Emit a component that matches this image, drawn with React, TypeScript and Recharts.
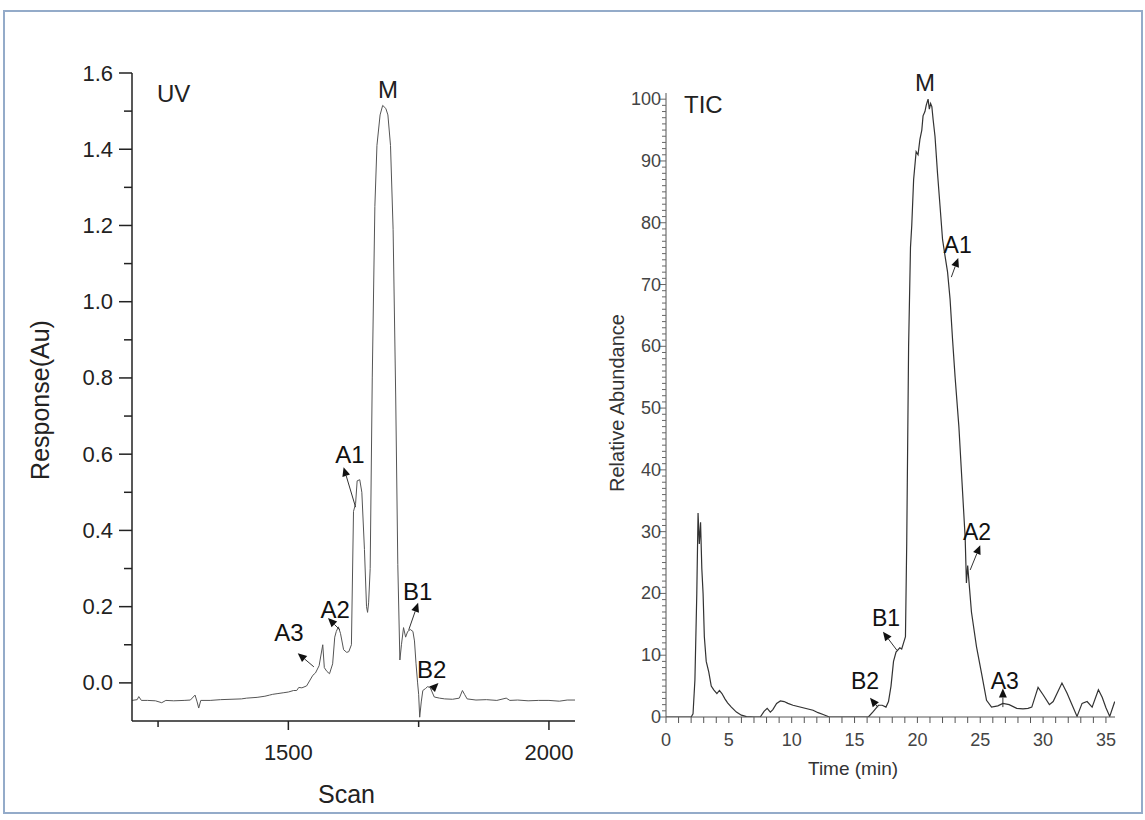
import React from "react";
import {
  LineChart,
  Line,
  XAxis,
  YAxis,
  ReferenceLine,
  ReferenceDot,
} from "recharts";

// UV trace (scan number vs response, Au)
const uvScan = [
  1200, 1210, 1213, 1218, 1230, 1245, 1257, 1265, 1280, 1300, 1312, 1321, 1325,
  1328, 1332, 1350, 1370, 1390, 1410, 1420, 1440, 1455, 1464, 1470, 1480, 1490,
  1500, 1510, 1516, 1520, 1526, 1535, 1547, 1552, 1559, 1566, 1569, 1574, 1579,
  1585, 1589, 1592, 1596, 1600, 1606, 1612, 1616, 1621, 1625, 1629, 1632, 1637,
  1641, 1646, 1650, 1652, 1654, 1657, 1661, 1666, 1670, 1676, 1681, 1687, 1691,
  1696, 1701, 1706, 1710, 1714, 1717, 1721, 1725, 1729, 1734, 1739, 1742, 1745,
  1748, 1750, 1752, 1755, 1758, 1763, 1767, 1772, 1780, 1790, 1800, 1815, 1828,
  1834, 1838, 1843, 1860, 1880, 1900, 1918, 1925, 1940, 1960, 1980, 2000, 2020,
  2035, 2050,
];
const uvResp = [
  -0.046, -0.044, -0.036, -0.046, -0.046, -0.047, -0.052, -0.046, -0.047,
  -0.046, -0.045, -0.032, -0.05, -0.066, -0.046, -0.046, -0.044, -0.043, -0.042,
  -0.04, -0.038, -0.035, -0.032, -0.03, -0.028, -0.026, -0.024, -0.02, -0.02,
  -0.012, -0.013, -0.008, 0.02, 0.026, 0.045, 0.1, 0.04, 0.03, 0.024, 0.05, 0.12,
  0.135, 0.147, 0.13, 0.087, 0.08, 0.082, 0.1, 0.45, 0.47, 0.53, 0.533, 0.5,
  0.35, 0.2, 0.185, 0.21, 0.3, 0.8, 1.25, 1.41, 1.49, 1.515, 1.507, 1.49, 1.41,
  1.19, 0.75, 0.31, 0.06, 0.1, 0.145, 0.12, 0.135, 0.14, 0.135, 0.11, 0.05, 0.0,
  -0.03, -0.09, -0.05, -0.02, -0.015, -0.01, -0.012, -0.037, -0.04, -0.042,
  -0.043, -0.04, -0.02, -0.03, -0.042, -0.045, -0.044, -0.046, -0.04, -0.046,
  -0.045, -0.047, -0.046, -0.046, -0.048, -0.045, -0.045,
];

// TIC trace (time, min vs relative abundance)
const ticTime = [
  0, 2.0, 2.15, 2.3, 2.45, 2.55, 2.65, 2.75, 2.85, 2.95, 3.05, 3.2, 3.4, 3.6,
  3.8, 4.05, 4.25, 4.45, 4.7, 4.9, 5.2, 5.6, 6.0, 6.4, 7.0, 7.5, 7.8, 8.05, 8.3,
  8.5, 8.8, 9.1, 9.4, 9.7, 10.1, 10.5, 10.9, 11.3, 11.7, 12.1, 12.5, 13.0, 16.1,
  16.5, 16.9, 17.2, 17.5, 17.7, 17.9, 18.1, 18.3, 18.6, 18.75, 18.9, 19.05,
  19.15, 19.3, 19.45, 19.55, 19.7, 19.9, 20.05, 20.2, 20.35, 20.45, 20.6, 20.7,
  20.85, 20.95, 21.05, 21.15, 21.25, 21.4, 21.6, 21.8, 22.0, 22.2, 22.4, 22.6,
  22.8, 23.0, 23.3, 23.55, 23.8, 23.9, 24.0, 24.1, 24.3, 24.7, 25.1, 25.5, 25.9,
  26.4, 26.8, 27.3, 27.9, 28.4, 28.8, 29.1, 29.6, 30.0, 30.5, 30.8, 31.5, 31.9,
  32.3, 32.7, 33.1, 33.5, 33.9, 34.4, 34.7, 35.0, 35.3, 35.7,
];
const ticAbund = [
  0, 0, 0.5, 6, 20, 33, 28, 31.5, 24, 20, 13, 9, 7.3, 5, 4.4, 3.8, 4.3, 3.8, 2.9,
  2.3, 1.6, 0.8, 0.3, 0.05, 0, 0, 0.9, 1.4, 0.8, 1.2, 2.2, 2.6, 2.5, 2.2, 1.9,
  1.7, 1.5, 1.3, 1.1, 0.7, 0.4, 0, 0, 0.9, 1.9, 1.9, 1.6, 2.5, 5, 9, 10.5, 11.2,
  11, 12, 13, 28, 60, 76, 79.5, 87, 91.5, 91, 93.5, 95, 97.3, 98, 99, 100, 98.4,
  99.3, 98.8, 96.7, 94, 88, 82.7, 77.3, 74.6, 72, 67.6, 61, 55, 47, 38, 29, 21.7,
  24.5, 22, 17, 11.4, 7.1, 2.7, 1.6, 1.8, 2.2, 2, 1.4, 1.3, 1.4, 1.6, 4.8, 3.6,
  2.0, 2.5, 5.5, 3.9, 2, 0.1, 2.2, 2.5, 1.6, 4.4, 3.2, 1.5, 0.1, 2.5,
];

const uvXTicks = [1250, 1500, 1750, 2000];
const uvYTicks = [
  0, 0.1, 0.2, 0.3, 0.4, 0.5, 0.6, 0.7, 0.8, 0.9, 1.0, 1.1, 1.2, 1.3, 1.4, 1.5,
  1.6,
];
const ticXLabels = [0, 5, 10, 15, 20, 25, 30, 35];
const ticYLabels = [0, 10, 20, 30, 40, 50, 60, 70, 80, 90, 100];
const ticXTicks = Array.from({ length: 36 }, (_, i) => i);
const ticYTicks = Array.from({ length: 101 }, (_, i) => i);

// peak annotations: label, text anchor, arrow tail (on trace), arrow head
const uvNotes = [
  { name: "A3", tx: 1501, ty: 0.131, x1: 1549, y1: 0.042, x2: 1518, y2: 0.078 },
  { name: "A2", tx: 1590, ty: 0.193, x1: 1599, y1: 0.139, x2: 1576, y2: 0.17 },
  { name: "A1", tx: 1618, ty: 0.598, x1: 1629, y1: 0.461, x2: 1606, y2: 0.566 },
  { name: "B1", tx: 1748, ty: 0.24, x1: 1731, y1: 0.139, x2: 1749, y2: 0.21 },
  { name: "B2", tx: 1775, ty: 0.034, x1: 1775, y1: -0.018, x2: 1788, y2: 0.0 },
];
const ticNotes = [
  { name: "A1", tx: 23.2, ty: 76.4, x1: 22.7, y1: 71.2, x2: 23.25, y2: 74.3 },
  { name: "A2", tx: 24.75, ty: 30.0, x1: 24.2, y1: 23.8, x2: 25.0, y2: 27.8 },
  { name: "B1", tx: 17.5, ty: 16.1, x1: 18.37, y1: 10.8, x2: 17.26, y2: 13.8 },
  { name: "B2", tx: 15.83, ty: 5.9, x1: 16.85, y1: 1.6, x2: 16.23, y2: 3.1 },
  { name: "A3", tx: 26.95, ty: 5.9, x1: 26.8, y1: 1.6, x2: 26.8, y2: 4.6 },
];

const uvData = uvScan.map((s, i) => ({ scan: s, resp: uvResp[i] }));
const ticData = ticTime.map((t, i) => ({ time: t, abund: ticAbund[i] }));

const FONT = "'Liberation Sans', Arial, sans-serif";

const arrowShape = (p: any) => {
  const { x1, y1, x2, y2 } = p;
  const dx = x2 - x1;
  const dy = y2 - y1;
  const len = Math.hypot(dx, dy) || 1;
  const ux = dx / len;
  const uy = dy / len;
  const hl = 9;
  const hw = 4;
  const bx = x2 - ux * hl;
  const by = y2 - uy * hl;
  return (
    <g>
      <line x1={x1} y1={y1} x2={bx} y2={by} stroke="#333" strokeWidth={1} />
      <polygon
        points={`${x2},${y2} ${bx - uy * hw},${by + ux * hw} ${bx + uy * hw},${by - ux * hw}`}
        fill="#111"
      />
    </g>
  );
};

function notes(list: any[], size: number, prefix: string) {
  const out: any[] = [];
  list.forEach((n) => {
    out.push(
      <ReferenceLine
        key={prefix + n.name + "l"}
        segment={[
          { x: n.x1, y: n.y1 },
          { x: n.x2, y: n.y2 },
        ]}
        shape={arrowShape}
        ifOverflow="visible"
      />
    );
    out.push(
      <ReferenceDot
        key={prefix + n.name + "t"}
        x={n.tx}
        y={n.ty}
        r={1}
        ifOverflow="visible"
        shape={(p: any) => (
          <text
            x={p.cx}
            y={p.cy}
            textAnchor="middle"
            dominantBaseline="central"
            fontSize={size}
            fontFamily={FONT}
            fill="#111"
          >
            {n.name}
          </text>
        )}
      />
    );
  });
  return out;
}

const UvXTick = (p: any) => {
  const v = p.payload.value;
  const major = v % 500 === 0;
  return (
    <g>
      <line x1={p.x} x2={p.x} y1={p.y} y2={p.y + (major ? 9 : 6)} stroke="#222" strokeWidth={1.5} />
      {major && (
        <text x={p.x} y={p.y + 31} textAnchor="middle" dominantBaseline="central" fontSize={22} fontFamily={FONT} fill="#222">
          {v}
        </text>
      )}
    </g>
  );
};

const UvYTick = (p: any) => {
  const v = p.payload.value;
  const major = Math.round(v * 10) % 2 === 0;
  return (
    <g>
      <line x1={p.x - (major ? 13 : 8)} x2={p.x} y1={p.y} y2={p.y} stroke="#222" strokeWidth={1.5} />
      {major && (
        <text x={p.x - 19} y={p.y} textAnchor="end" dominantBaseline="central" fontSize={22} fontFamily={FONT} fill="#222">
          {v.toFixed(1)}
        </text>
      )}
    </g>
  );
};

const TicXTick = (p: any) => {
  const v = p.payload.value;
  const major = ticXLabels.includes(v);
  return (
    <g>
      <line x1={p.x} x2={p.x} y1={p.y} y2={p.y + 6} stroke="#555" strokeWidth={1} />
      {major && (
        <text x={p.x} y={p.y + 23} textAnchor="middle" dominantBaseline="central" fontSize={18} fontFamily={FONT} fill="#444">
          {v}
        </text>
      )}
    </g>
  );
};

const TicYTick = (p: any) => {
  const v = p.payload.value;
  const major = ticYLabels.includes(v);
  return (
    <g>
      <line x1={p.x - (major ? 6 : 4)} x2={p.x} y1={p.y} y2={p.y} stroke="#666" strokeWidth={1} />
      {major && (
        <text x={p.x - 5} y={p.y} textAnchor="end" dominantBaseline="central" fontSize={18} fontFamily={FONT} fill="#444">
          {v}
        </text>
      )}
    </g>
  );
};

const txt = (extra: React.CSSProperties): React.CSSProperties => ({
  position: "absolute",
  fontFamily: FONT,
  color: "#222",
  whiteSpace: "nowrap",
  lineHeight: 1,
  ...extra,
});

export default function App() {
  return (
    <div
      style={{
        position: "absolute",
        left: 0,
        top: 0,
        width: 1145,
        height: 820,
        background: "#fff",
        overflow: "hidden",
      }}
    >
      <div
        style={{
          position: "absolute",
          left: 3,
          top: 10,
          width: 1136,
          height: 800,
          border: "2px solid #94abc9",
        }}
      />

      <div style={{ position: "absolute", left: 0, top: 0 }}>
        <LineChart
          width={600}
          height={820}
          data={uvData}
          margin={{ top: 73, right: 25, bottom: 39, left: 72 }}
        >
          <XAxis
            dataKey="scan"
            type="number"
            domain={[1200, 2050]}
            ticks={uvXTicks}
            interval={0}
            allowDataOverflow
            height={60}
            tickSize={0}
            tickMargin={0}
            tickLine={false}
            axisLine={{ stroke: "#222", strokeWidth: 1.5 }}
            tick={UvXTick}
          />
          <YAxis
            type="number"
            domain={[-0.1, 1.6]}
            ticks={uvYTicks}
            interval={0}
            allowDataOverflow
            width={60}
            tickSize={0}
            tickMargin={0}
            tickLine={false}
            axisLine={{ stroke: "#222", strokeWidth: 1.5 }}
            tick={UvYTick}
          />
          <Line
            dataKey="resp"
            type="linear"
            stroke="#555"
            strokeWidth={1}
            dot={false}
            isAnimationActive={false}
          />
          {notes(uvNotes, 24, "uv")}
        </LineChart>
      </div>

      <div style={{ position: "absolute", left: 580, top: 0 }}>
        <LineChart
          width={565}
          height={820}
          data={ticData}
          margin={{ top: 93, right: 30, bottom: 53, left: 36 }}
        >
          <XAxis
            dataKey="time"
            type="number"
            domain={[0, 35.72]}
            ticks={ticXTicks}
            interval={0}
            allowDataOverflow
            height={50}
            tickSize={0}
            tickMargin={0}
            tickLine={false}
            axisLine={{ stroke: "#555", strokeWidth: 1 }}
            tick={TicXTick}
          />
          <YAxis
            type="number"
            domain={[0, 101]}
            ticks={ticYTicks}
            interval={0}
            allowDataOverflow
            width={50}
            tickSize={0}
            tickMargin={0}
            tickLine={false}
            axisLine={{ stroke: "#555", strokeWidth: 1 }}
            tick={TicYTick}
          />
          <Line
            dataKey="abund"
            type="linear"
            stroke="#333"
            strokeWidth={1.2}
            dot={false}
            isAnimationActive={false}
          />
          {notes(ticNotes, 23, "tic")}
        </LineChart>
      </div>

      {/* panel titles and axis titles */}
      <div style={txt({ left: 157, top: 82, fontSize: 24 })}>UV</div>
      <div style={txt({ left: 378, top: 78, fontSize: 24 })}>M</div>
      <div style={txt({ left: 684, top: 93, fontSize: 24 })}>TIC</div>
      <div style={txt({ left: 915, top: 71, fontSize: 24 })}>M</div>
      <div style={txt({ left: 318, top: 782, fontSize: 25 })}>Scan</div>
      <div style={txt({ left: 808, top: 759, fontSize: 19, color: "#333" })}>Time (min)</div>
      <div
        style={txt({
          left: 40,
          top: 400,
          fontSize: 25,
          transform: "translate(-50%, -50%) rotate(-90deg)",
        })}
      >
        Response(Au)
      </div>
      <div
        style={txt({
          left: 617,
          top: 403,
          fontSize: 20,
          color: "#333",
          transform: "translate(-50%, -50%) rotate(-90deg)",
        })}
      >
        Relative Abundance
      </div>
    </div>
  );
}
